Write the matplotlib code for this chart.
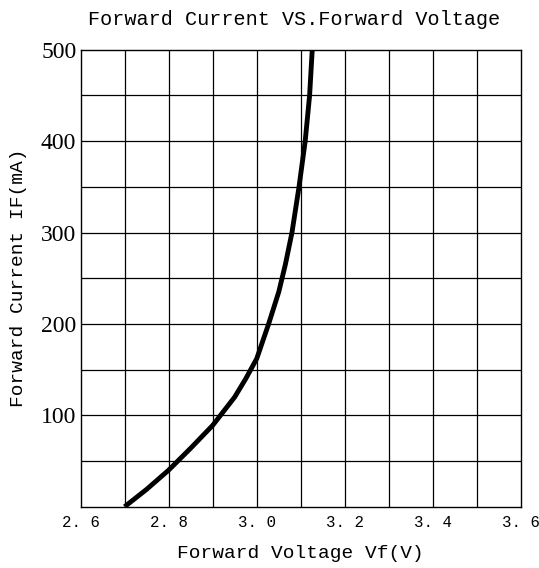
import matplotlib.pyplot as plt
import numpy as np

# curva IF vs Vf
voltaje = [2.70, 2.75, 2.80, 2.85, 2.90, 2.95, 2.975, 3.00, 3.027, 3.05, 3.065, 3.08, 3.096, 3.11, 3.12, 3.126]
corriente = [0, 19, 40, 64, 89, 120, 140, 162, 200, 235, 265, 300, 350, 400, 450, 500]

x_ticks = [2.6, 2.8, 3.0, 3.2, 3.4, 3.6]
x_labels = ["2. 6", "2. 8", "3. 0", "3. 2", "3. 4", "3. 6"]
y_ticks = [100, 200, 300, 400, 500]

fig = plt.figure(figsize=(5.39, 5.68), dpi=100)
ax = fig.add_axes([0.1494, 0.1079, 0.8173, 0.8046])

ax.plot(voltaje, corriente, color='black', linewidth=3.5, solid_capstyle='butt', zorder=3)

ax.set_xlim(2.6, 3.6)
ax.set_ylim(0, 500)

# rejilla cada 0.1 V y cada 50 mA
for v in np.arange(2.7, 3.55, 0.1):
    ax.axvline(v, color='black', linewidth=0.9, zorder=1)
for c in np.arange(50, 460, 50):
    ax.axhline(c, color='black', linewidth=0.9, zorder=1)
ax.tick_params(which='both', length=0)

ax.set_xticks(x_ticks)
ax.set_xticklabels(x_labels, family='Liberation Mono', fontsize=11.3)
ax.set_yticks(y_ticks)
ax.set_yticklabels([str(v) for v in y_ticks], family='Liberation Serif', fontsize=17)
ax.tick_params(axis='x', pad=6)
ax.tick_params(axis='y', pad=3)

for s in ax.spines.values():
    s.set_linewidth(1.0)
    s.set_color('black')

ax.set_title("Forward Current VS.Forward Voltage", family='Liberation Mono', fontsize=14.5, pad=18, x=0.484)
ax.set_xlabel("Forward Voltage Vf(V)", family='Liberation Mono', fontsize=14, labelpad=11)
ax.set_ylabel("Forward Current IF(mA)", family='Liberation Mono', fontsize=14, labelpad=10)

fig.savefig("out.png", dpi=100)
